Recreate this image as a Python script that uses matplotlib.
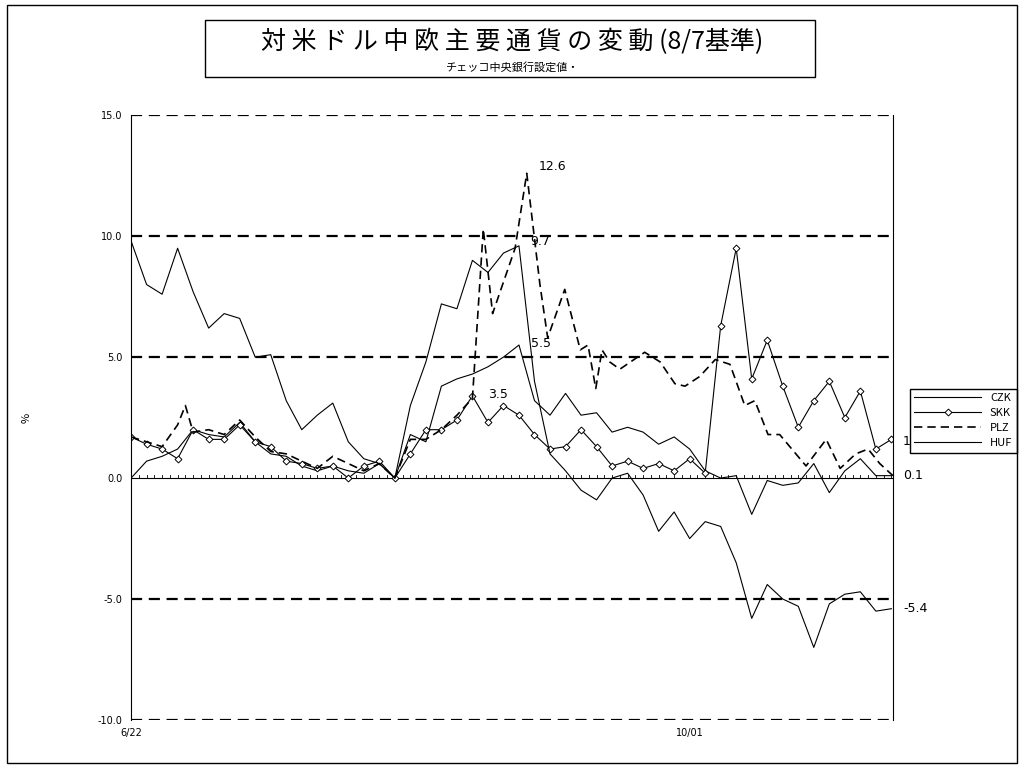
import matplotlib
matplotlib.use("Agg")
import matplotlib.pyplot as plt
from matplotlib.patches import Rectangle

plt.rcParams['font.family'] = ['Noto Sans CJK JP', 'DejaVu Sans']

grid_days = list(range(0, 100, 2))
czk = [0.0, 0.7, 0.9, 1.2, 2.0, 1.8, 1.7, 2.3, 1.5, 1.0, 0.9, 0.5, 0.3, 0.5, 0.3, 0.2, 0.6, 0.0,
       1.8, 1.5, 3.8, 4.1, 4.3, 4.6, 5.0, 5.5, 3.2, 2.6, 3.5, 2.6, 2.7, 1.9, 2.1, 1.9, 1.4, 1.7,
       1.2, 0.3, 0.0, 0.1, -1.5, -0.1, -0.3, -0.2, 0.6, -0.6, 0.3, 0.8, 0.1, 0.1]
skk = [1.7, 1.4, 1.2, 0.8, 2.0, 1.6, 1.6, 2.2, 1.5, 1.3, 0.7, 0.6, 0.4, 0.5, 0.0, 0.5, 0.7, 0.0,
       1.0, 2.0, 2.0, 2.4, 3.4, 2.3, 3.0, 2.6, 1.8, 1.2, 1.3, 2.0, 1.3, 0.5, 0.7, 0.4, 0.6, 0.3,
       0.8, 0.2, 6.3, 9.5, 4.1, 5.7, 3.8, 2.1, 3.2, 4.0, 2.5, 3.6, 1.2, 1.6]
huf = [9.8, 8.0, 7.6, 9.5, 7.7, 6.2, 6.8, 6.6, 5.0, 5.1, 3.2, 2.0, 2.6, 3.1, 1.5, 0.8, 0.6, 0.0,
       3.0, 4.8, 7.2, 7.0, 9.0, 8.5, 9.3, 9.6, 4.0, 1.0, 0.3, -0.5, -0.9, 0.0, 0.2, -0.7, -2.2, -1.4,
       -2.5, -1.8, -2.0, -3.5, -5.8, -4.4, -5.0, -5.3, -7.0, -5.2, -4.8, -4.7, -5.5, -5.4]
plz_days = [0, 2, 4, 6, 7, 8, 10, 12, 14, 16, 18, 20, 22, 24, 26, 28, 30, 32, 34, 36, 38, 40, 42, 44,
            45.4, 46.6, 49.5, 51, 52.7, 53.7, 55.9, 57.9, 58.9, 59.9, 60.7, 61.7, 63, 66.2, 68.2,
            70.1, 71.4, 73.3, 75.3, 77.2, 79.1, 80.4, 82.1, 83.6, 87, 89.6, 91.4, 93.4, 95, 96.5, 98.2]
plz = [1.7, 1.5, 1.3, 2.2, 3.0, 1.9, 2.0, 1.8, 2.4, 1.7, 1.1, 1.0, 0.7, 0.4, 0.9, 0.6, 0.3, 0.6, 0.0,
       1.6, 1.6, 2.0, 2.6, 3.3,
       10.3, 6.8, 9.5, 12.6, 8.0, 5.8, 7.8, 5.3, 5.5, 3.7, 5.3, 4.8, 4.5, 5.2, 4.8, 3.9, 3.8, 4.2,
       4.9, 4.7, 3.0, 3.2, 1.8, 1.8, 0.5, 1.6, 0.4, 1.0, 1.2, 0.6, 0.1]
xtick_days = [0, 72]
xtick_labels = ['6/22', '10/01']
yticks = [15, 10, 5, 0, -5, -10]

fig = plt.figure(figsize=(10.24, 7.68), dpi=100)
ax = fig.add_axes([0.128, 0.0625, 0.744, 0.7875])
ax.set_xlim(0, 98.2)
ax.set_ylim(-10, 15)

for yv in [15, 10, 5, -5, -10]:
    ax.axhline(yv, color='black', lw=1.6, ls=(0, (5, 3)), zorder=1)
ax.axhline(0, color='black', lw=0.8, zorder=1)
for d in range(0, 99):
    ax.plot([d, d], [0, 0.12], color='black', lw=0.6, zorder=1)

ax.plot(grid_days, czk, color='black', lw=0.8, label='CZK')
ax.plot(grid_days, skk, color='black', lw=0.8, marker='D', ms=3.5, mfc='white', mew=0.7, label='SKK')
ax.plot(plz_days, plz, color='black', lw=1.2, ls=(0, (5, 3)), label='PLZ')
ax.plot(grid_days, huf, color='black', lw=0.8, label='HUF')

for s in ['top', 'bottom']:
    ax.spines[s].set_visible(False)
ax.set_xticks(xtick_days)
ax.set_xticklabels(xtick_labels, fontsize=7, family='DejaVu Sans')
ax.set_yticks(yticks)
ax.set_yticklabels([f'{v:.1f}' for v in yticks], fontsize=7, family='DejaVu Sans')
ax.tick_params(length=0, pad=6)
ax.set_ylabel('%', fontsize=8, rotation=90)
ax.yaxis.set_label_coords(-0.13, 0.5)

for d, v, t in [(52, 12.6, '12.6'), (51, 9.5, '9.7'), (51, 5.3, '5.5'), (45.5, 3.2, '3.5')]:
    ax.text(d + 0.5, v, t, fontsize=9, family='DejaVu Sans', va='bottom')
for v, t in [(1.5, '1'), (0.1, '0.1'), (-5.4, '-5.4')]:
    ax.text(99.5, v, t, fontsize=9, family='DejaVu Sans', va='center', clip_on=False)

leg = ax.legend(loc='center left', bbox_to_anchor=(1.015, 0.495), fontsize=8, frameon=True,
                fancybox=False, edgecolor='black', handlelength=6, framealpha=1,
                borderpad=0.4, labelspacing=0.45)
leg.get_frame().set_linewidth(1.0)
leg.set_zorder(5)

fig.patches.append(Rectangle((7 / 1024, 5 / 768), 1010 / 1024, 758 / 768, transform=fig.transFigure,
                             fill=False, ec='black', lw=1))
fig.patches.append(Rectangle((205 / 1024, 1 - 77 / 768), 610 / 1024, 57 / 768, transform=fig.transFigure,
                             fill=False, ec='black', lw=1))
fig.text(0.5, 1 - 42 / 768, '対 米 ド ル 中 欧 主 要 通 貨 の 変 動 (8/7基準)', ha='center', va='center', fontsize=18)
fig.text(0.5, 1 - 67 / 768, 'チェッコ中央銀行設定値・', ha='center', va='center', fontsize=8)

fig.savefig('out.png', dpi=100)
